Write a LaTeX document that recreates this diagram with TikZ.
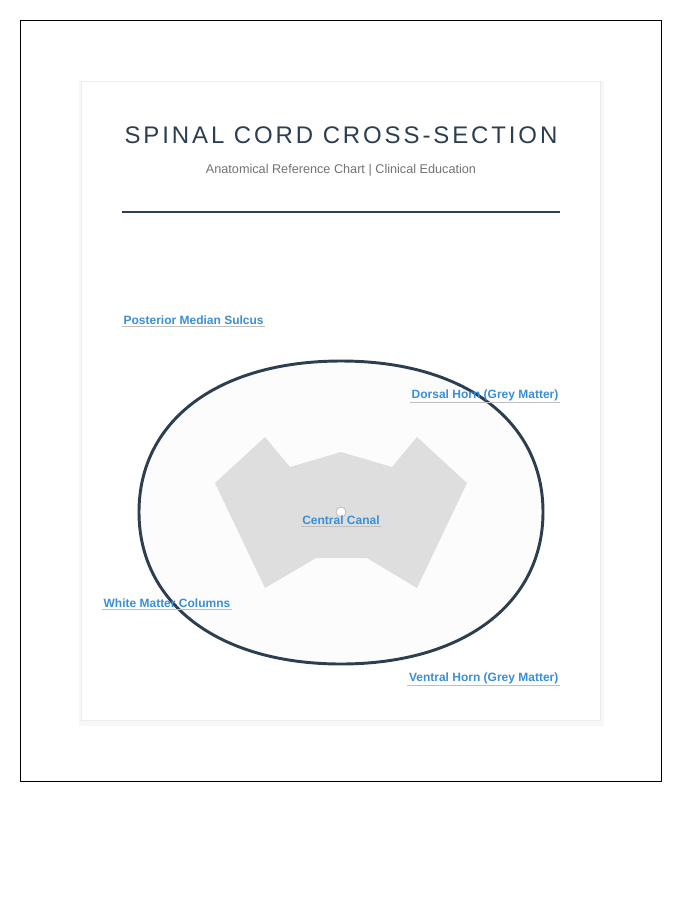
\documentclass[tikz,border=0pt]{standalone}
\usepackage{fontspec}
\setmainfont{Liberation Sans}
\newfontfamily\titlefont[LetterSpace=12]{Liberation Sans}
\begin{document}
\begin{tikzpicture}[x=0.75pt,y=-0.75pt,
  lbl/.style={font=\fontsize{9}{11}\selectfont\bfseries, text=labelblue, inner sep=1pt},
  uline/.style={draw=black!25, line width=0.6pt}]
\definecolor{labelblue}{HTML}{3A8FD6}
\definecolor{navy}{HTML}{2C3E50}
\useasboundingbox (0,0) rectangle (700,900);
\fill[white] (0,0) rectangle (700,900);
\draw[line width=0.6pt] (20,20) rectangle (661,781);
\fill[black!3] (79,81) rectangle (604,726);
\draw[fill=white, draw=black!8] (81,81) rectangle (600,720);
\node[font=\titlefont\fontsize{18}{22}\selectfont, text=navy] (title) at (341,135) {SPINAL CORD CROSS-SECTION};
\node[font=\fontsize{9.5}{12}\selectfont, text=black!55] (sub) at (341,170) {Anatomical Reference Chart | Clinical Education};
\draw[navy, line width=1.5pt] (122,212) -- (560,212);
% outer cord
\draw[navy, line width=2.2pt, fill=black!1]
  (341,361) .. controls (463,361) and (543,420) .. (543,512)
  .. controls (543,604) and (463,664) .. (341,664)
  .. controls (219,664) and (139,604) .. (139,512)
  .. controls (139,420) and (219,361) .. (341,361) -- cycle;
% grey matter
\fill[black!13] (265,437) -- (290,467) -- (341,452) -- (392,467) -- (417,437) -- (467,483)
  -- (417,588) -- (367,558) -- (316,558) -- (265,588) -- (215,483) -- cycle;
\draw[fill=white, draw=black!30, line width=0.5pt] (341,512) circle (5);
% labels
\node[lbl, anchor=west] (pms) at (122,320) {Posterior Median Sulcus};
\draw[uline] (pms.south west) -- (pms.south east);
\node[lbl, anchor=east] (dh) at (560,395) {Dorsal Horn (Grey Matter)};
\draw[uline] (dh.south west) -- (dh.south east);
\node[lbl] (cc) at (341,520) {Central Canal};
\draw[uline] (cc.south west) -- (cc.south east);
\node[lbl, anchor=west] (wm) at (102,603) {White Matter Columns};
\draw[uline] (wm.south west) -- (wm.south east);
\node[lbl, anchor=east] (vh) at (560,678) {Ventral Horn (Grey Matter)};
\draw[uline] (vh.south west) -- (vh.south east);
\end{tikzpicture}
\end{document}
